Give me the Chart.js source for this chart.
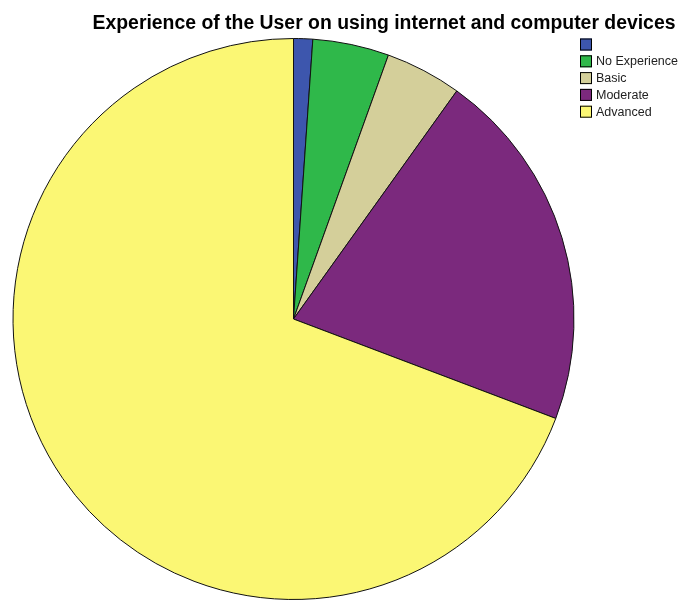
<!DOCTYPE html>
<html>
<head>
<meta charset="utf-8">
<script src="https://cdn.jsdelivr.net/npm/chart.js@4.4.0/dist/chart.umd.min.js"></script>
<style>
  html, body { margin: 0; padding: 0; background: #fff; }
  #wrap { width: 682px; height: 601px; }
</style>
</head>
<body>
<div id="wrap"><canvas id="c" width="682" height="601"></canvas></div>
<script>
// Experience levels and respondent counts
const categories = ['', 'No Experience', 'Basic', 'Moderate', 'Advanced'];
const counts = [1, 4, 4, 19, 63];
const sliceColors = ['#3D56AD', '#2FB84A', '#D4CF9A', '#7B297D', '#FBF774'];
const chartTitle = 'Experience of the User on using internet and computer devices';

// Title and boxed legend drawn on the canvas
const decorations = {
  id: 'decorations',
  afterDraw(chart) {
    const ctx = chart.ctx;
    ctx.save();
    ctx.fillStyle = '#000';
    ctx.font = 'bold 19.4px "Liberation Sans", Arial, sans-serif';
    ctx.textAlign = 'center';
    ctx.textBaseline = 'alphabetic';
    ctx.fillText(chartTitle, 384, 29);

    const labels = chart.data.labels;
    const colors = chart.data.datasets[0].backgroundColor;
    ctx.font = '12.5px "Liberation Sans", Arial, sans-serif';
    ctx.textAlign = 'left';
    ctx.textBaseline = 'middle';
    labels.forEach((lab, i) => {
      const y = 44.5 + i * 16.8;
      ctx.fillStyle = colors[i];
      ctx.fillRect(580, y - 6, 12, 12);
      ctx.strokeStyle = '#000';
      ctx.lineWidth = 1;
      ctx.strokeRect(580.5, y - 5.5, 11, 11);
      ctx.fillStyle = '#222';
      ctx.fillText(lab, 596, y + 0.5);
    });
    ctx.restore();
  }
};

new Chart(document.getElementById('c'), {
  type: 'pie',
  data: {
    labels: categories,
    datasets: [{
      data: counts,
      backgroundColor: sliceColors,
      borderColor: '#111',
      borderWidth: 1
    }]
  },
  options: {
    responsive: false,
    animation: false,
    layout: { padding: { top: 38, bottom: 1, left: 12, right: 107 } },
    plugins: {
      legend: { display: false },
      tooltip: { enabled: false },
      title: { display: false }
    }
  },
  plugins: [decorations]
});
</script>
</body>
</html>
